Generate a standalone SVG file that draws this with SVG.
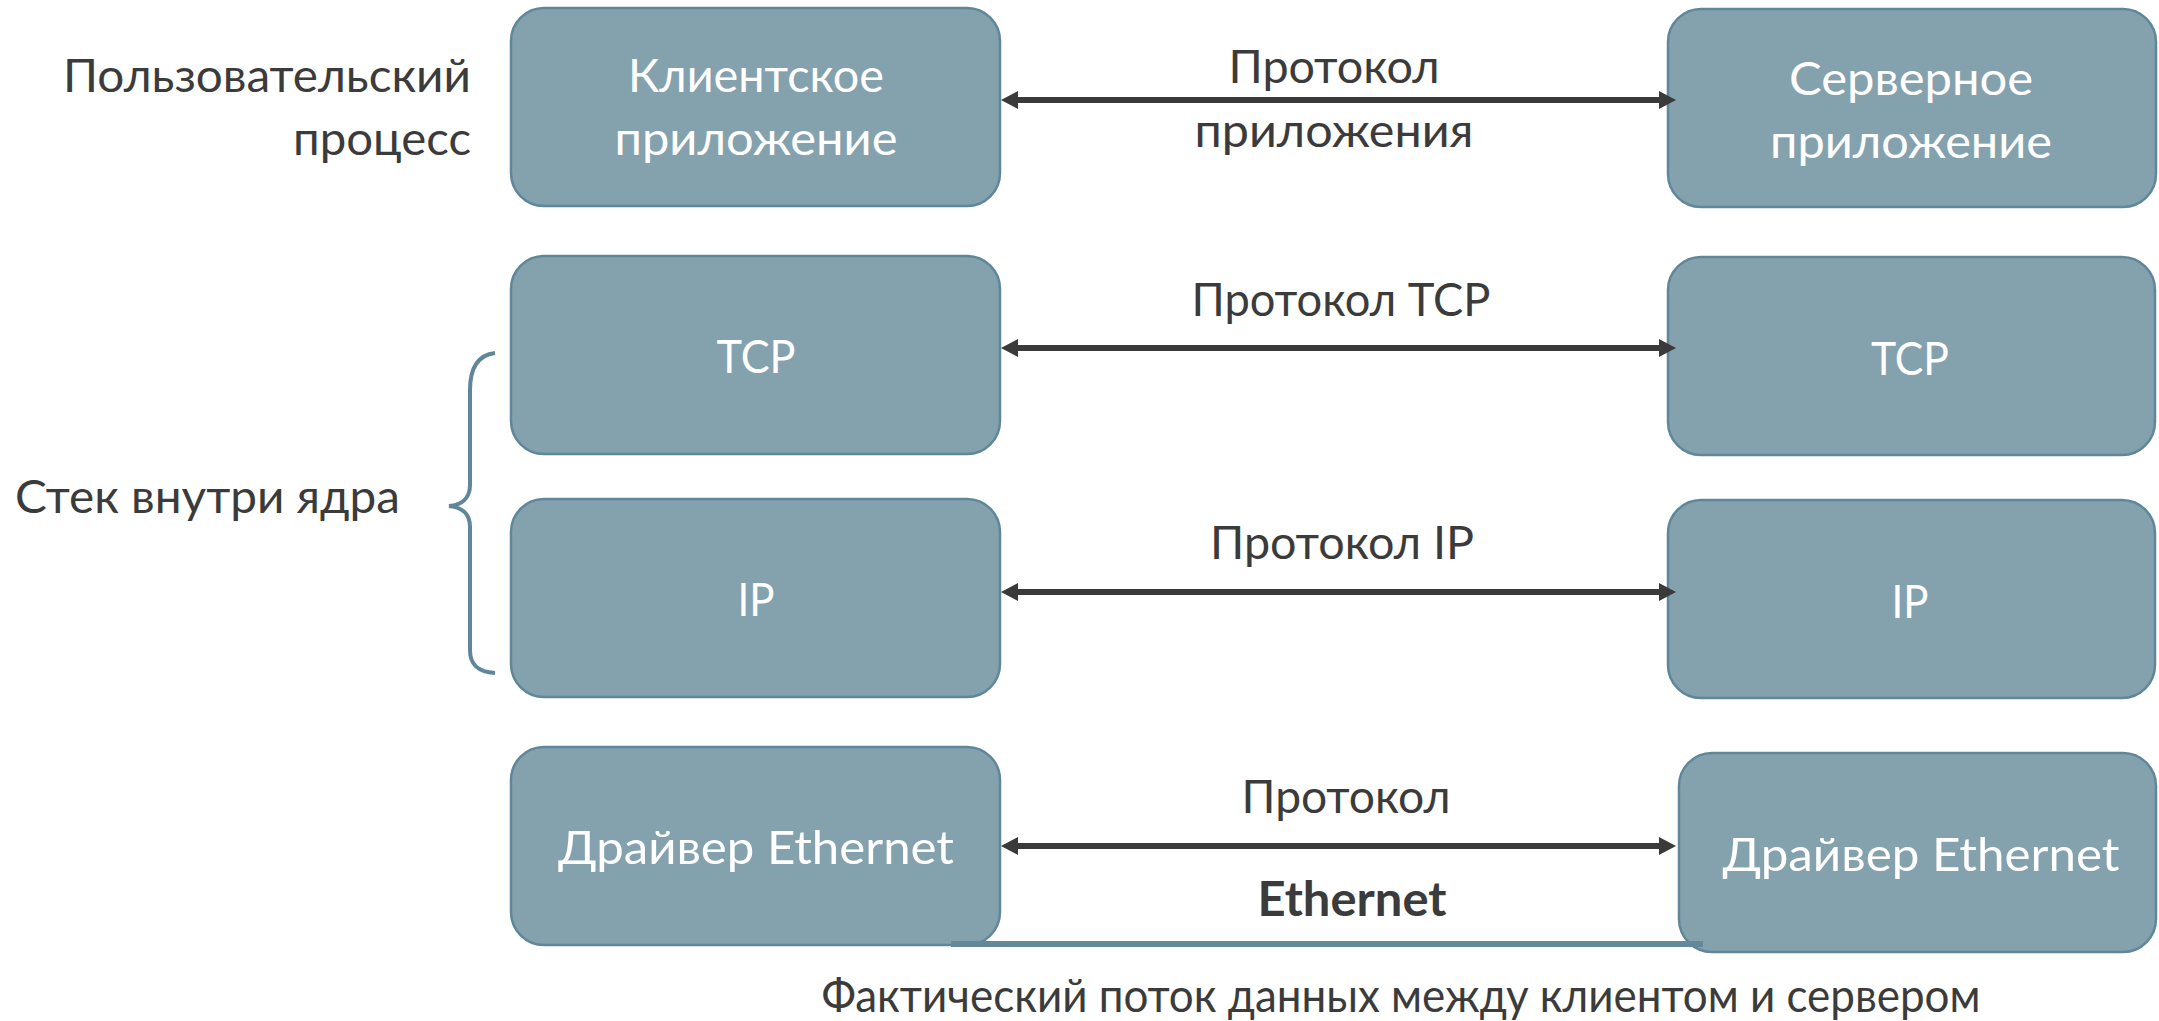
<svg xmlns="http://www.w3.org/2000/svg" width="2159" height="1021" viewBox="0 0 2159 1021">
  <style>
    .box { fill: #84a1ae; stroke: #5f8799; stroke-width: 2.5; }
    .t { font-family: Lato, "Noto Sans", sans-serif; font-size: 47px; }
    .in { fill: #ffffff; text-anchor: middle; }
    .lbl { fill: #3b3b3b; text-anchor: middle; }
    .side { fill: #3b3b3b; }
    .conn { stroke: #3a3a3a; stroke-width: 6; fill: none; marker-start: url(#head); marker-end: url(#head); }
  </style>
  <defs>
    <marker id="head" viewBox="0 0 17 18" markerWidth="17" markerHeight="18" refX="7" refY="9" orient="auto-start-reverse" markerUnits="userSpaceOnUse">
      <path d="M0,0 L17,9 L0,18 Z" fill="#3a3a3a"/>
    </marker>
  </defs>
  <rect width="2159" height="1021" fill="#ffffff"/>

  <!-- side labels -->
  <g id="label-user">
    <text class="t side" x="471" y="92" text-anchor="end" textLength="408" lengthAdjust="spacingAndGlyphs">Пользовательский</text>
    <text class="t side" x="471" y="155" text-anchor="end" textLength="178" lengthAdjust="spacingAndGlyphs">процесс</text>
  </g>
  <g id="label-kernel">
    <text class="t side" x="15" y="513" textLength="385" lengthAdjust="spacingAndGlyphs">Стек внутри ядра</text>
    <path d="M495,353 C478,355 470,368 470,390 L470,485 C470,498 462,505 449,506 C462,507 470,514 470,527 L470,650 C470,665 478,672 495,673" fill="none" stroke="#5f8799" stroke-width="4"/>
  </g>

  <!-- client side -->
  <g id="client-app">
    <rect class="box" x="511" y="8" width="489" height="198" rx="33"/>
    <text class="t in" x="756" y="92" textLength="256" lengthAdjust="spacingAndGlyphs">Клиентское</text>
    <text class="t in" x="756" y="155" textLength="283" lengthAdjust="spacingAndGlyphs">приложение</text>
  </g>
  <g id="client-tcp">
    <rect class="box" x="511" y="256" width="489" height="198" rx="33"/>
    <text class="t in" x="756" y="373" textLength="79" lengthAdjust="spacingAndGlyphs">TCP</text>
  </g>
  <g id="client-ip">
    <rect class="box" x="511" y="499" width="489" height="198" rx="33"/>
    <text class="t in" x="756" y="616" textLength="37" lengthAdjust="spacingAndGlyphs">IP</text>
  </g>
  <g id="client-eth">
    <rect class="box" x="511" y="747" width="489" height="198" rx="33"/>
    <text class="t in" x="756" y="864" textLength="396" lengthAdjust="spacingAndGlyphs">Драйвер Ethernet</text>
  </g>

  <!-- server side -->
  <g id="server-app">
    <rect class="box" x="1668" y="9" width="488" height="198" rx="33"/>
    <text class="t in" x="1911" y="95" textLength="244" lengthAdjust="spacingAndGlyphs">Серверное</text>
    <text class="t in" x="1911" y="158" textLength="282" lengthAdjust="spacingAndGlyphs">приложение</text>
  </g>
  <g id="server-tcp">
    <rect class="box" x="1668" y="257" width="487" height="198" rx="33"/>
    <text class="t in" x="1910" y="375" textLength="78" lengthAdjust="spacingAndGlyphs">TCP</text>
  </g>
  <g id="server-ip">
    <rect class="box" x="1668" y="500" width="487" height="198" rx="33"/>
    <text class="t in" x="1910" y="618" textLength="37" lengthAdjust="spacingAndGlyphs">IP</text>
  </g>
  <g id="server-eth">
    <rect class="box" x="1679" y="753" width="477" height="199" rx="33"/>
    <text class="t in" x="1921" y="871" textLength="397" lengthAdjust="spacingAndGlyphs">Драйвер Ethernet</text>
  </g>

  <!-- protocol connectors -->
  <g id="connectors">
    <line class="conn" x1="1011" y1="100" x2="1666" y2="100"/>
    <line class="conn" x1="1011" y1="348" x2="1666" y2="348"/>
    <line class="conn" x1="1011" y1="592" x2="1666" y2="592"/>
    <line class="conn" x1="1011" y1="846" x2="1666" y2="846"/>
    <!-- physical data path -->
    <line x1="951" y1="944" x2="1703" y2="944" stroke="#628899" stroke-width="6"/>
  </g>

  <!-- connector labels -->
  <g id="labels">
    <text class="t lbl" x="1334" y="83" textLength="211" lengthAdjust="spacingAndGlyphs">Протокол</text>
    <text class="t lbl" x="1334" y="147" textLength="279" lengthAdjust="spacingAndGlyphs">приложения</text>
    <text class="t lbl" x="1341" y="316" textLength="299" lengthAdjust="spacingAndGlyphs">Протокол TCP</text>
    <text class="t lbl" x="1342" y="559" textLength="264" lengthAdjust="spacingAndGlyphs">Протокол IP</text>
    <text class="t lbl" x="1346" y="813" textLength="209" lengthAdjust="spacingAndGlyphs">Протокол</text>
    <text class="t lbl" x="1352" y="916" font-weight="bold" textLength="189" lengthAdjust="spacingAndGlyphs">Ethernet</text>
    <text class="t lbl" x="1401" y="1012" textLength="1159" lengthAdjust="spacingAndGlyphs">Фактический поток данных между клиентом и сервером</text>
  </g>
</svg>
